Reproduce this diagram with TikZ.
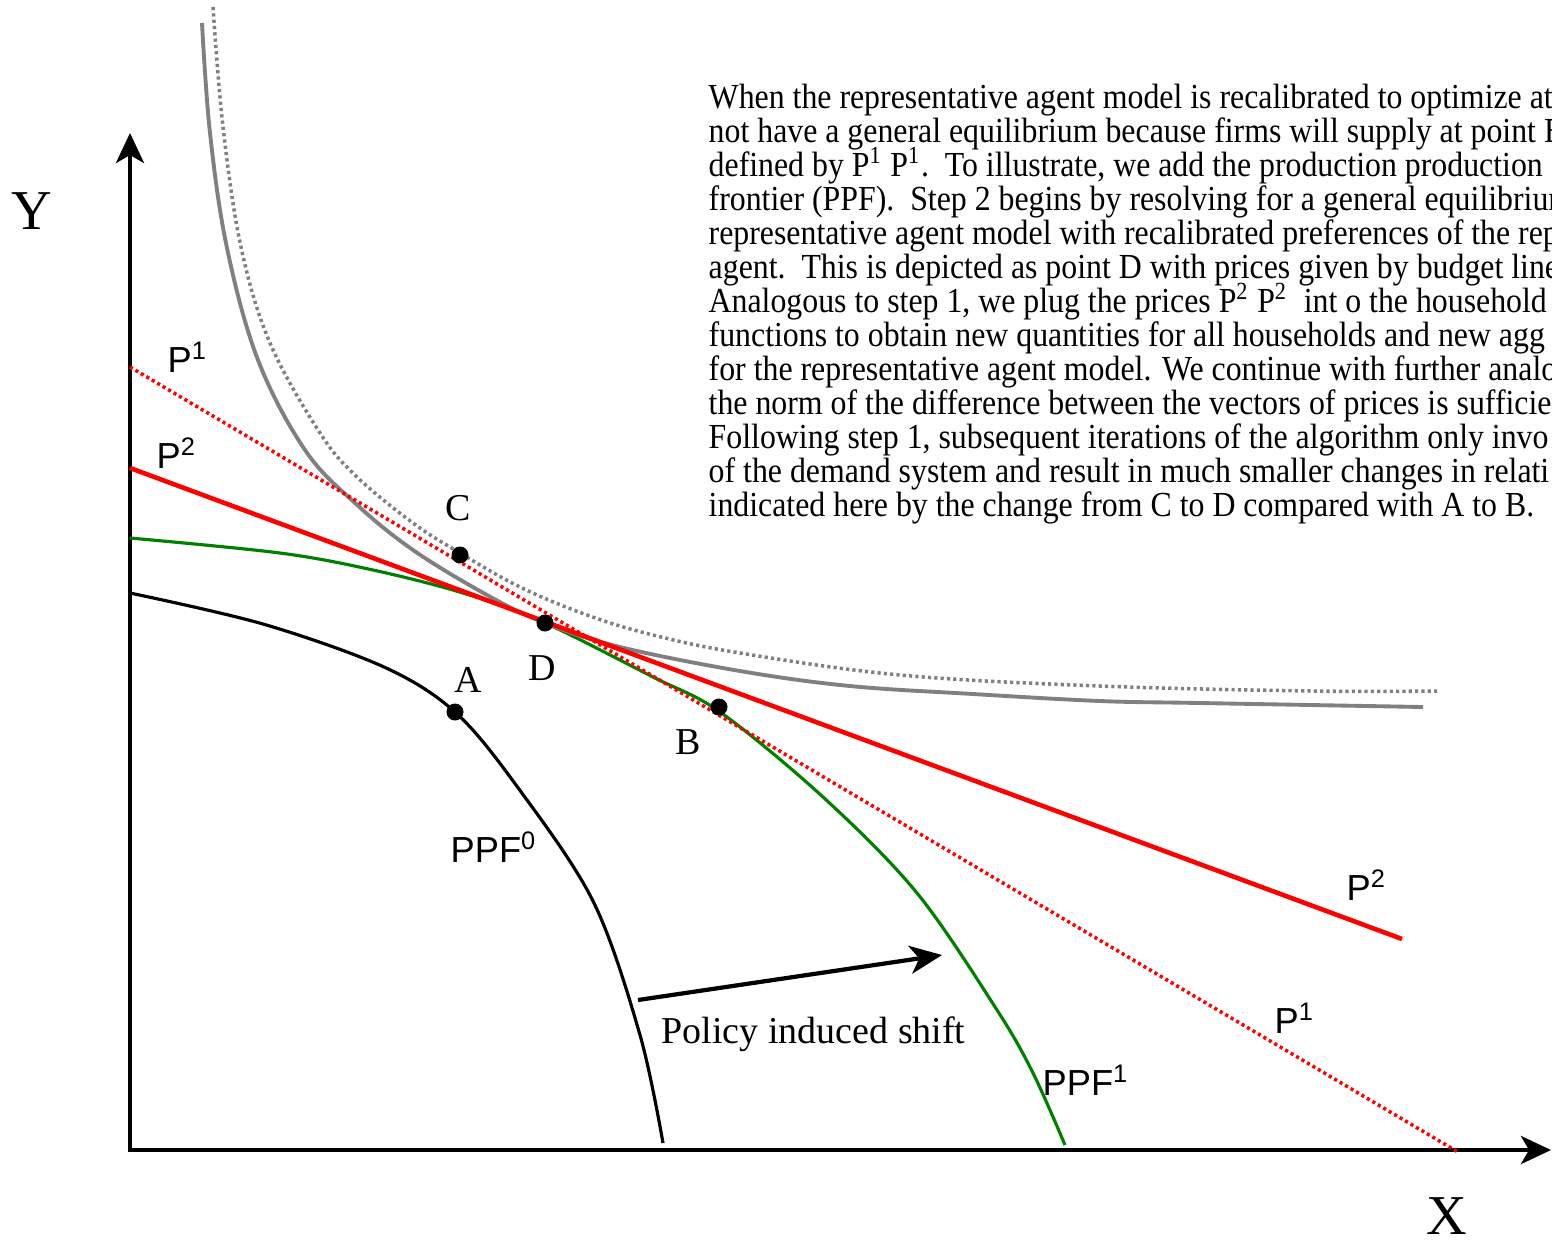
\documentclass[tikz,border=0pt]{standalone}
\usepackage{fontspec}
\setmainfont{Liberation Serif}
\newfontfamily\arialf{Liberation Sans}
\newfontfamily\bodyf[FakeStretch=0.905]{Liberation Serif}
\usetikzlibrary{arrows.meta}
\definecolor{ppfgreen}{RGB}{0,128,0}
\definecolor{icgray}{RGB}{128,128,128}
\tikzset{
  axisline/.style={line width=1.2pt, {Stealth[length=0.3cm,width=0.28cm,inset=0.08cm]}-{Stealth[length=0.3cm,width=0.28cm,inset=0.08cm]}},
  shiftarrow/.style={line width=1.2pt, -{Stealth[length=0.32cm,width=0.28cm,inset=0.09cm]}},
  ppfzero/.style={line width=0.9pt, black},
  ppfone/.style={line width=0.9pt, ppfgreen},
  budgetline/.style={line width=1.3pt, red},
  budgetdots/.style={line width=1pt, red, dash pattern=on 0.9pt off 0.9pt},
  icline/.style={line width=1.1pt, icgray},
  icdots/.style={line width=1pt, icgray, dash pattern=on 0.9pt off 0.9pt},
  eqpt/.style={circle, fill=black, inner sep=0pt, minimum size=0.17cm},
  ptlabel/.style={font=\fontsize{10.8pt}{12pt}\selectfont, inner sep=0pt},
  axlabel/.style={font=\fontsize{16pt}{18pt}\selectfont, inner sep=0pt},
  plabel/.style={font=\arialf\fontsize{10.3pt}{12pt}\selectfont, inner sep=0pt, anchor=base west},
  bodyline/.style={font=\bodyf\fontsize{10pt}{10pt}\selectfont, inner sep=0pt, anchor=base west},
}
\begin{document}
\begin{tikzpicture}[x=0.01cm,y=-0.01cm]
\useasboundingbox (0,0) rectangle (1552,1242);
\clip (0,0) rectangle (1552,1242);

% axes
\coordinate (O) at (130,1150);
\coordinate (Ytip) at (130,133);
\coordinate (Xtip) at (1551,1150);
\draw[axisline] (Ytip) -- (O) -- (Xtip);
\node[axlabel] (ylab) at (32,211) {Y};
\node[axlabel] (xlab) at (1447,1216) {X};

% PPF1 (green)
\draw[ppfone] plot[smooth, tension=0.55] coordinates {(130,538) (280,553) (373,570) (463,593) (545,623) (653,677) (720,712) (823,797) (917,893) (997,1010) (1033,1073) (1065,1145)};

% indifference curves
\draw[icline] plot[smooth, tension=0.6] coordinates {(202,23) (210,133) (227,248) (258,360) (305,450) (355,503) (413,550) (487,595) (545,623) (620,647) (740,671) (850,686) (973,694) (1100,701) (1200,703) (1423,707)};
\draw[icdots] plot[smooth, tension=0.6] coordinates {(213,7) (223,127) (241,247) (270,343) (320,433) (357,477) (413,523) (460,553) (520,587) (587,615) (653,635) (740,653) (900,675) (1100,686) (1313,691) (1437,691)};

% budget lines
\coordinate (p2a) at (130,468);
\coordinate (p2b) at (1402,939);
\coordinate (p1a) at (130,367);
\coordinate (p1b) at (1458,1152);
\draw[budgetline] (p2a) -- (p2b);
\draw[budgetdots] (p1a) -- (p1b);

% PPF0 (black)
\draw[ppfzero] plot[smooth, tension=0.55] coordinates {(130,593) (263,624) (384,667) (455,712) (516,785) (593,901) (640,1035) (663,1143)};

% points
\node[eqpt] (A) at (455,712) {};
\node[eqpt] (B) at (719,707) {};
\node[eqpt] (C) at (460,555) {};
\node[eqpt] (D) at (545,623) {};
\node[ptlabel] (Alab) at (468,680) {A};
\node[ptlabel] (Blab) at (688,742) {B};
\node[ptlabel] (Clab) at (458,508) {C};
\node[ptlabel] (Dlab) at (542,668) {D};

% curve labels
\node[plabel] (p1top) at (167,372) {P\textsuperscript{1}};
\node[plabel] (p2top) at (156,468) {P\textsuperscript{2}};
\node[plabel] (p2bot) at (1346,900) {P\textsuperscript{2}};
\node[plabel] (p1bot) at (1274,1033) {P\textsuperscript{1}};
\node[plabel] (ppf0lab) at (450,862) {PPF\textsuperscript{0}};
\node[plabel] (ppf1lab) at (1042,1095) {PPF\textsuperscript{1}};

% policy shift
\coordinate (sh0) at (638,1000);
\coordinate (sh1) at (942,955);
\draw[shiftarrow] (sh0) -- (sh1);
\node[ptlabel, anchor=base west] (shiftlab) at (661,1043) {Policy induced shift};

% text block
\node[bodyline] (t1) at (708,108) {When the representative agent model is recalibrated to optimize at};
\node[bodyline] (t2) at (708,142) {not have a general equilibrium because firms will supply at point B};
\node[bodyline] (t3) at (708,176) {defined by P\textsuperscript{1} P\textsuperscript{1}.\ \ To illustrate, we add the production production};
\node[bodyline] (t4) at (708,210) {frontier (PPF).\ \ Step 2 begins by resolving for a general equilibrium};
\node[bodyline] (t5) at (708,244) {representative agent model with recalibrated preferences of the rep};
\node[bodyline] (t6) at (708,278) {agent.\ \ This is depicted as point D with prices given by budget line};
\node[bodyline] (t7) at (708,312) {Analogous to step 1, we plug the prices P\textsuperscript{2} P\textsuperscript{2}\ \ int o the household};
\node[bodyline] (t8) at (708,346) {functions to obtain new quantities for all households and new agg};
\node[bodyline] (t9) at (708,380) {for the representative agent model. We continue with further analog};
\node[bodyline] (t10) at (708,414) {the norm of the difference between the vectors of prices is sufficie};
\node[bodyline] (t11) at (708,448) {Following step 1, subsequent iterations of the algorithm only invo};
\node[bodyline] (t12) at (708,482) {of the demand system and result in much smaller changes in relati};
\node[bodyline] (t13) at (708,516) {indicated here by the change from C to D compared with A to B.};
\end{tikzpicture}
\end{document}
